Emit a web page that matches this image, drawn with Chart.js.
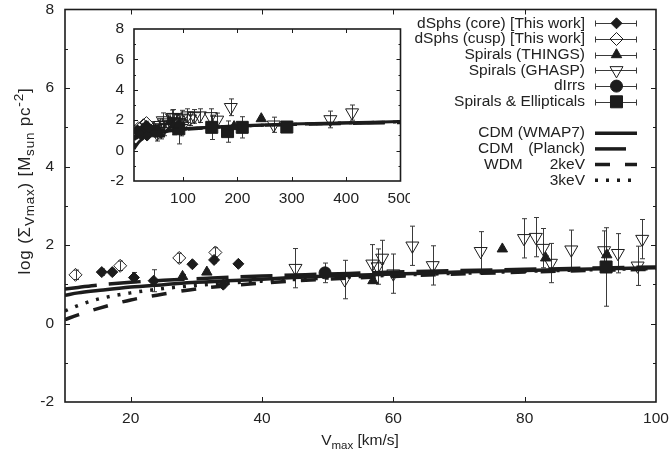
<!DOCTYPE html>
<html><head><meta charset="utf-8">
<script src="https://cdn.jsdelivr.net/npm/chart.js@4/dist/chart.umd.min.js"></script>
<style>
html,body{margin:0;padding:0;background:#fff;}
#wrap{position:relative;width:671px;height:455px;overflow:hidden;}
#main{position:absolute;left:0;top:0;}
#inset{position:absolute;left:100px;top:15px;}
</style></head><body>
<div id="wrap">
<canvas id="main" width="671" height="455"></canvas>
<canvas id="inset" width="310" height="200"></canvas>
</div>
<script>
// ---- tick labels ----
const xTickValues = [20, 40, 60, 80, 100];
const yTickValues = [-2, 0, 2, 4, 6, 8];
const insetXTickValues = [100, 200, 300, 400, 500];

// ---- model curves ----
const curveV    = [10, 12, 15, 20, 25, 30, 40, 50, 60, 70, 80, 90, 100, 150, 200, 300, 400, 500];
const cdmWmap7  = [0.72, 0.78, 0.84, 0.93, 0.99, 1.05, 1.13, 1.21, 1.26, 1.31, 1.35, 1.39, 1.42, 1.54, 1.63, 1.75, 1.84, 1.91];
const cdmPlanck = [0.88, 0.92, 0.98, 1.05, 1.10, 1.14, 1.21, 1.26, 1.31, 1.35, 1.38, 1.41, 1.44, 1.53, 1.61, 1.71, 1.78, 1.83];
const wdm2keV   = [0.10, 0.22, 0.38, 0.60, 0.75, 0.88, 1.03, 1.13, 1.20, 1.26, 1.31, 1.35, 1.38, 1.51, 1.60, 1.72, 1.81, 1.88];
const wdm3keV   = [0.32, 0.46, 0.62, 0.78, 0.89, 0.97, 1.08, 1.16, 1.23, 1.28, 1.33, 1.37, 1.40, 1.52, 1.61, 1.73, 1.82, 1.89];

// ---- observations ----
const coreV   = [15.6, 17.2, 20.5, 23.5, 29.4, 32.7, 34.1, 36.4];
const coreY   = [1.31, 1.31, 1.17, 1.09, 1.51, 1.62, 0.99, 1.52];
const coreErr = [0.08, 0.08, 0.13, 0.28, 0.08, 0.08, 0.08, 0.08];

const cuspV   = [11.6, 18.4, 27.4, 32.9];
const cuspY   = [1.24, 1.47, 1.67, 1.81];
const cuspErr = [0.12, 0.12, 0.12, 0.12];

const thingsV   = [27.9, 31.6, 56.9, 76.6, 83.2, 92.5, 194, 244];
const thingsY   = [1.20, 1.31, 1.09, 1.90, 1.67, 1.75, 1.58, 2.10];
const thingsErr = [0.05, 0.05, 0.05, 0.05, 0.05, 0.05, 0.05, 0.05];

const ghaspV   = [45.1, 52.6, 56.8, 57.6, 58.3, 60.0, 62.9, 66.0, 73.3, 79.9, 81.7, 82.8, 84.0, 87.1, 92.1, 94.2, 97.2, 97.9, 108, 113, 121, 131, 151, 163, 188, 267, 371, 411];
const ghaspY   = [1.41, 1.12, 1.52, 1.45, 1.67, 1.27, 1.98, 1.48, 1.84, 2.17, 2.20, 1.92, 1.54, 1.88, 1.86, 1.79, 1.47, 2.15, 2.30, 2.10, 2.25, 2.30, 2.25, 2.02, 2.85, 1.70, 2.05, 2.50];
const ghaspErr = [0.50, 0.49, 0.49, 0.45, 0.45, 0.50, 0.50, 0.50, 0.50, 0.50, 0.50, 0.50, 0.50, 0.50, 0.50, 0.50, 0.50, 0.50, 0.45, 0.45, 0.45, 0.45, 0.50, 0.45, 0.55, 0.50, 0.55, 0.50];

const dirrV   = [49.6];
const dirrY   = [1.29];
const dirrErr = [0.25];

const seV   = [92.4, 153, 182, 209, 291];
const seY   = [1.44, 1.53, 1.25, 1.53, 1.55];
const seErr = [1.00, 0.80, 0.70, 0.70, 0.25];

// ---- styling ----
const FONT = '"Liberation Sans", Arial, Helvetica, sans-serif';
const INK = '#1c1c1c';
Chart.defaults.font.family = FONT;
Chart.defaults.font.size = 15.5;
Chart.defaults.color = '#222';

const pts = (V, Y) => V.map((v, i) => ({x: v, y: Y[i]}));

function pointSets() {
  return [
    {label: 'dSphs (core) [This work]', data: pts(coreV, coreY), errY: coreErr,
     pointStyle: 'rectRot', pointRadius: 5.5, backgroundColor: INK, borderColor: INK, borderWidth: 1, order: 0},
    {label: 'dSphs (cusp) [This work]', data: pts(cuspV, cuspY), errY: cuspErr,
     pointStyle: 'rectRot', pointRadius: 6.5, backgroundColor: 'rgba(0,0,0,0)', borderColor: INK, borderWidth: 1, order: 0},
    {label: 'Spirals (THINGS)', data: pts(thingsV, thingsY), errY: thingsErr,
     pointStyle: 'triangle', pointRadius: 6, backgroundColor: INK, borderColor: INK, borderWidth: 1, order: 0},
    {label: 'Spirals (GHASP)', data: pts(ghaspV, ghaspY), errY: ghaspErr,
     pointStyle: 'triangle', rotation: 180, pointRadius: 7.5, backgroundColor: 'rgba(0,0,0,0)', borderColor: INK, borderWidth: 1, order: 0},
    {label: 'dIrrs', data: pts(dirrV, dirrY), errY: dirrErr,
     pointStyle: 'circle', pointRadius: 6, backgroundColor: INK, borderColor: INK, borderWidth: 1, order: 0},
    {label: 'Spirals & Ellipticals', data: pts(seV, seY), errY: seErr,
     pointStyle: 'rect', pointRadius: 8.5, backgroundColor: INK, borderColor: INK, borderWidth: 1, order: 0}
  ];
}
function curveSets(w) {
  const base = {showLine: true, pointRadius: 0, borderColor: INK, borderWidth: w, fill: false,
                cubicInterpolationMode: 'monotone', borderCapStyle: 'butt', order: 1};
  return [
    Object.assign({}, base, {label: 'CDM (WMAP7)', data: pts(curveV, cdmWmap7), borderDash: []}),
    Object.assign({}, base, {label: 'CDM (Planck)', data: pts(curveV, cdmPlanck), borderDash: [32, 12]}),
    Object.assign({}, base, {label: 'WDM 2keV', data: pts(curveV, wdm2keV), borderDash: [15, 15]}),
    Object.assign({}, base, {label: 'WDM 3keV', data: pts(curveV, wdm3keV), borderDash: [3, 8]})
  ];
}

// ---- plugins ----
const errorBarPlugin = {
  id: 'errbars',
  beforeDatasetsDraw(chart) {
    const {ctx, chartArea: a} = chart;
    const x = chart.scales.x, y = chart.scales.y;
    ctx.save();
    ctx.beginPath(); ctx.rect(a.left, a.top, a.right - a.left, a.bottom - a.top); ctx.clip();
    ctx.strokeStyle = '#3a3a3a'; ctx.lineWidth = 1;
    chart.data.datasets.forEach(ds => {
      if (!ds.errY) return;
      ds.data.forEach((p, i) => {
        const e = ds.errY[i]; if (!e) return;
        if (p.x < x.min || p.x > x.max) return;
        const px = Math.round(x.getPixelForValue(p.x)) + 0.5;
        const y1 = y.getPixelForValue(p.y + e), y2 = y.getPixelForValue(p.y - e);
        ctx.beginPath();
        ctx.moveTo(px, y1); ctx.lineTo(px, y2);
        ctx.moveTo(px - 2.5, y1); ctx.lineTo(px + 2.5, y1);
        ctx.moveTo(px - 2.5, y2); ctx.lineTo(px + 2.5, y2);
        ctx.stroke();
      });
    });
    ctx.restore();
  }
};

const framePlugin = {
  id: 'frame',
  afterDraw(chart, args, o) {
    const {ctx, chartArea: a} = chart;
    const x = chart.scales.x, y = chart.scales.y;
    ctx.save();
    ctx.strokeStyle = INK;
    ctx.lineWidth = 1;
    ctx.beginPath();
    for (let v = y.min + 1; v < y.max; v++) {
      const py = Math.round(y.getPixelForValue(v)) + 0.5;
      const len = (v % 2 === 0) ? o.major : o.minor;
      ctx.moveTo(a.left, py); ctx.lineTo(a.left + len, py);
      ctx.moveTo(a.right, py); ctx.lineTo(a.right - len, py);
    }
    o.xTicks.forEach(v => {
      if (v <= x.min || v >= x.max) return;
      const px = Math.round(x.getPixelForValue(v)) + 0.5;
      ctx.moveTo(px, a.bottom); ctx.lineTo(px, a.bottom - o.major);
      ctx.moveTo(px, a.top); ctx.lineTo(px, a.top + o.major);
    });
    ctx.stroke();
    ctx.lineWidth = 1.6;
    ctx.strokeRect(a.left, a.top, a.right - a.left, a.bottom - a.top);
    ctx.restore();
  }
};

function drawPieces(ctx, pieces, startX, baseY) {
  let cx = startX;
  pieces.forEach(p => {
    ctx.font = p.size + 'px ' + FONT;
    ctx.fillText(p.t, cx, baseY + (p.dy || 0));
    cx += ctx.measureText(p.t).width;
  });
}
function piecesWidth(ctx, pieces) {
  let w = 0;
  pieces.forEach(p => { ctx.font = p.size + 'px ' + FONT; w += ctx.measureText(p.t).width; });
  return w;
}

const titlePlugin = {
  id: 'titles',
  afterDraw(chart) {
    const ctx = chart.ctx;
    ctx.save();
    ctx.fillStyle = '#222';
    ctx.textAlign = 'left';
    ctx.textBaseline = 'alphabetic';
    const xt = [{t: 'V', size: 15.5}, {t: 'max', size: 11.5, dy: 4}, {t: ' [km/s]', size: 15.5}];
    const wx = piecesWidth(ctx, xt);
    drawPieces(ctx, xt, 360 - wx / 2, 445);
    ctx.letterSpacing = '0.8px';
    const yt = [{t: 'log (\u03A3', size: 17}, {t: 'Vmax', size: 13.5, dy: 4}, {t: ') [M', size: 17},
                {t: 'sun', size: 13.5, dy: 4}, {t: ' pc', size: 17}, {t: '-2', size: 13.5, dy: -7}, {t: ']', size: 17}];
    const wy = piecesWidth(ctx, yt);
    ctx.translate(30, 181);
    ctx.rotate(-Math.PI / 2);
    drawPieces(ctx, yt, -wy / 2, 0);
    ctx.restore();
  }
};

const legendPlugin = {
  id: 'keybox',
  afterDraw(chart) {
    const ctx = chart.ctx;
    const ds = chart.data.datasets;
    const textR = 585, x0 = 595, x1 = 637, mx = 616.5;
    const rowY = [23.3, 39, 54.7, 70.4, 86.1, 101.8, 133.2, 148.9, 164.6, 180.3];
    ctx.save();
    ctx.fillStyle = '#222';
    ctx.font = '15.5px ' + FONT;
    ctx.textBaseline = 'middle';
    for (let i = 0; i < 6; i++) {
      const d = ds[i], yy = rowY[i];
      ctx.textAlign = 'right';
      ctx.fillStyle = '#222';
      ctx.fillText(d.label, textR, yy);
      ctx.strokeStyle = '#3a3a3a'; ctx.lineWidth = 1;
      ctx.beginPath();
      const py = Math.round(yy) + 0.5;
      ctx.moveTo(x0, py); ctx.lineTo(x1, py);
      ctx.moveTo(x0 + 0.5, py - 3); ctx.lineTo(x0 + 0.5, py + 3);
      ctx.moveTo(x1 - 0.5, py - 3); ctx.lineTo(x1 - 0.5, py + 3);
      ctx.stroke();
      ctx.fillStyle = d.backgroundColor; ctx.strokeStyle = d.borderColor; ctx.lineWidth = d.borderWidth;
      Chart.helpers.drawPoint(ctx, {pointStyle: d.pointStyle, radius: d.pointRadius, rotation: d.rotation || 0, borderWidth: d.borderWidth}, mx, yy);
    }
    const lineRows = [
      {i: 6, left: null, right: 'CDM (WMAP7)', end: x1},
      {i: 7, left: 'CDM', right: '(Planck)', end: 626},
      {i: 8, left: 'WDM', right: '2keV', end: x1},
      {i: 9, left: null, right: '3keV', end: x1}
    ];
    const lefts = [null, 478, 484, null];
    lineRows.forEach((r, k) => {
      const d = ds[r.i], yy = rowY[6 + k];
      ctx.fillStyle = '#222';
      ctx.textAlign = 'right';
      ctx.fillText(r.right, textR, yy);
      if (r.left) { ctx.textAlign = 'left'; ctx.fillText(r.left, lefts[k], yy); }
      ctx.strokeStyle = d.borderColor; ctx.lineWidth = d.borderWidth; ctx.lineCap = 'butt';
      ctx.setLineDash(d.borderDash || []);
      ctx.beginPath(); ctx.moveTo(x0, yy); ctx.lineTo(r.end, yy); ctx.stroke();
      ctx.setLineDash([]);
    });
    ctx.restore();
  }
};

function xFit(h) { return s => { s.height = h; s.paddingLeft = 0; s.paddingRight = 0; s.paddingTop = 0; s.paddingBottom = 0; }; }
function yFit(w) { return s => { s.width = w; s.paddingLeft = 0; s.paddingRight = 0; s.paddingTop = 0; s.paddingBottom = 0; }; }

// ---- main chart ----
new Chart(document.getElementById('main'), {
  type: 'scatter',
  data: {datasets: pointSets().concat(curveSets(3.5))},
  options: {
    responsive: false, animation: false, devicePixelRatio: 1,
    layout: {padding: {top: 8, right: 15, left: 0, bottom: 0}},
    plugins: {legend: {display: false}, tooltip: {enabled: false},
              frame: {major: 5, minor: 3, xTicks: xTickValues}},
    scales: {
      x: {type: 'linear', min: 10, max: 100,
          afterBuildTicks: s => { s.ticks = xTickValues.map(v => ({value: v})); },
          afterFit: xFit(53),
          grid: {display: false, drawTicks: false}, border: {display: false},
          ticks: {padding: 7, color: '#222', maxRotation: 0}},
      y: {type: 'linear', min: -2, max: 8,
          afterBuildTicks: s => { s.ticks = yTickValues.map(v => ({value: v})); },
          afterFit: yFit(65),
          grid: {display: false, drawTicks: false}, border: {display: false},
          ticks: {padding: 11, color: '#222'}}
    }
  },
  plugins: [errorBarPlugin, framePlugin, titlePlugin, legendPlugin]
});

// ---- inset chart ----
new Chart(document.getElementById('inset'), {
  type: 'scatter',
  data: {datasets: pointSets().concat(curveSets(3))},
  options: {
    responsive: false, animation: false, devicePixelRatio: 1,
    layout: {padding: {top: 14, right: 8, left: 0, bottom: 0}},
    plugins: {legend: {display: false}, tooltip: {enabled: false},
              frame: {major: 4, minor: 2, xTicks: insetXTickValues}},
    scales: {
      x: {type: 'linear', min: 10, max: 500,
          afterBuildTicks: s => { s.ticks = insetXTickValues.map(v => ({value: v})); },
          afterFit: xFit(34),
          grid: {display: false, drawTicks: false}, border: {display: false},
          ticks: {padding: 8, color: '#222', maxRotation: 0}},
      y: {type: 'linear', min: -2, max: 8,
          afterBuildTicks: s => { s.ticks = yTickValues.map(v => ({value: v})); },
          afterFit: yFit(34),
          grid: {display: false, drawTicks: false}, border: {display: false},
          ticks: {padding: 10, color: '#222'}}
    }
  },
  plugins: [errorBarPlugin, framePlugin]
});
</script>
</body></html>
